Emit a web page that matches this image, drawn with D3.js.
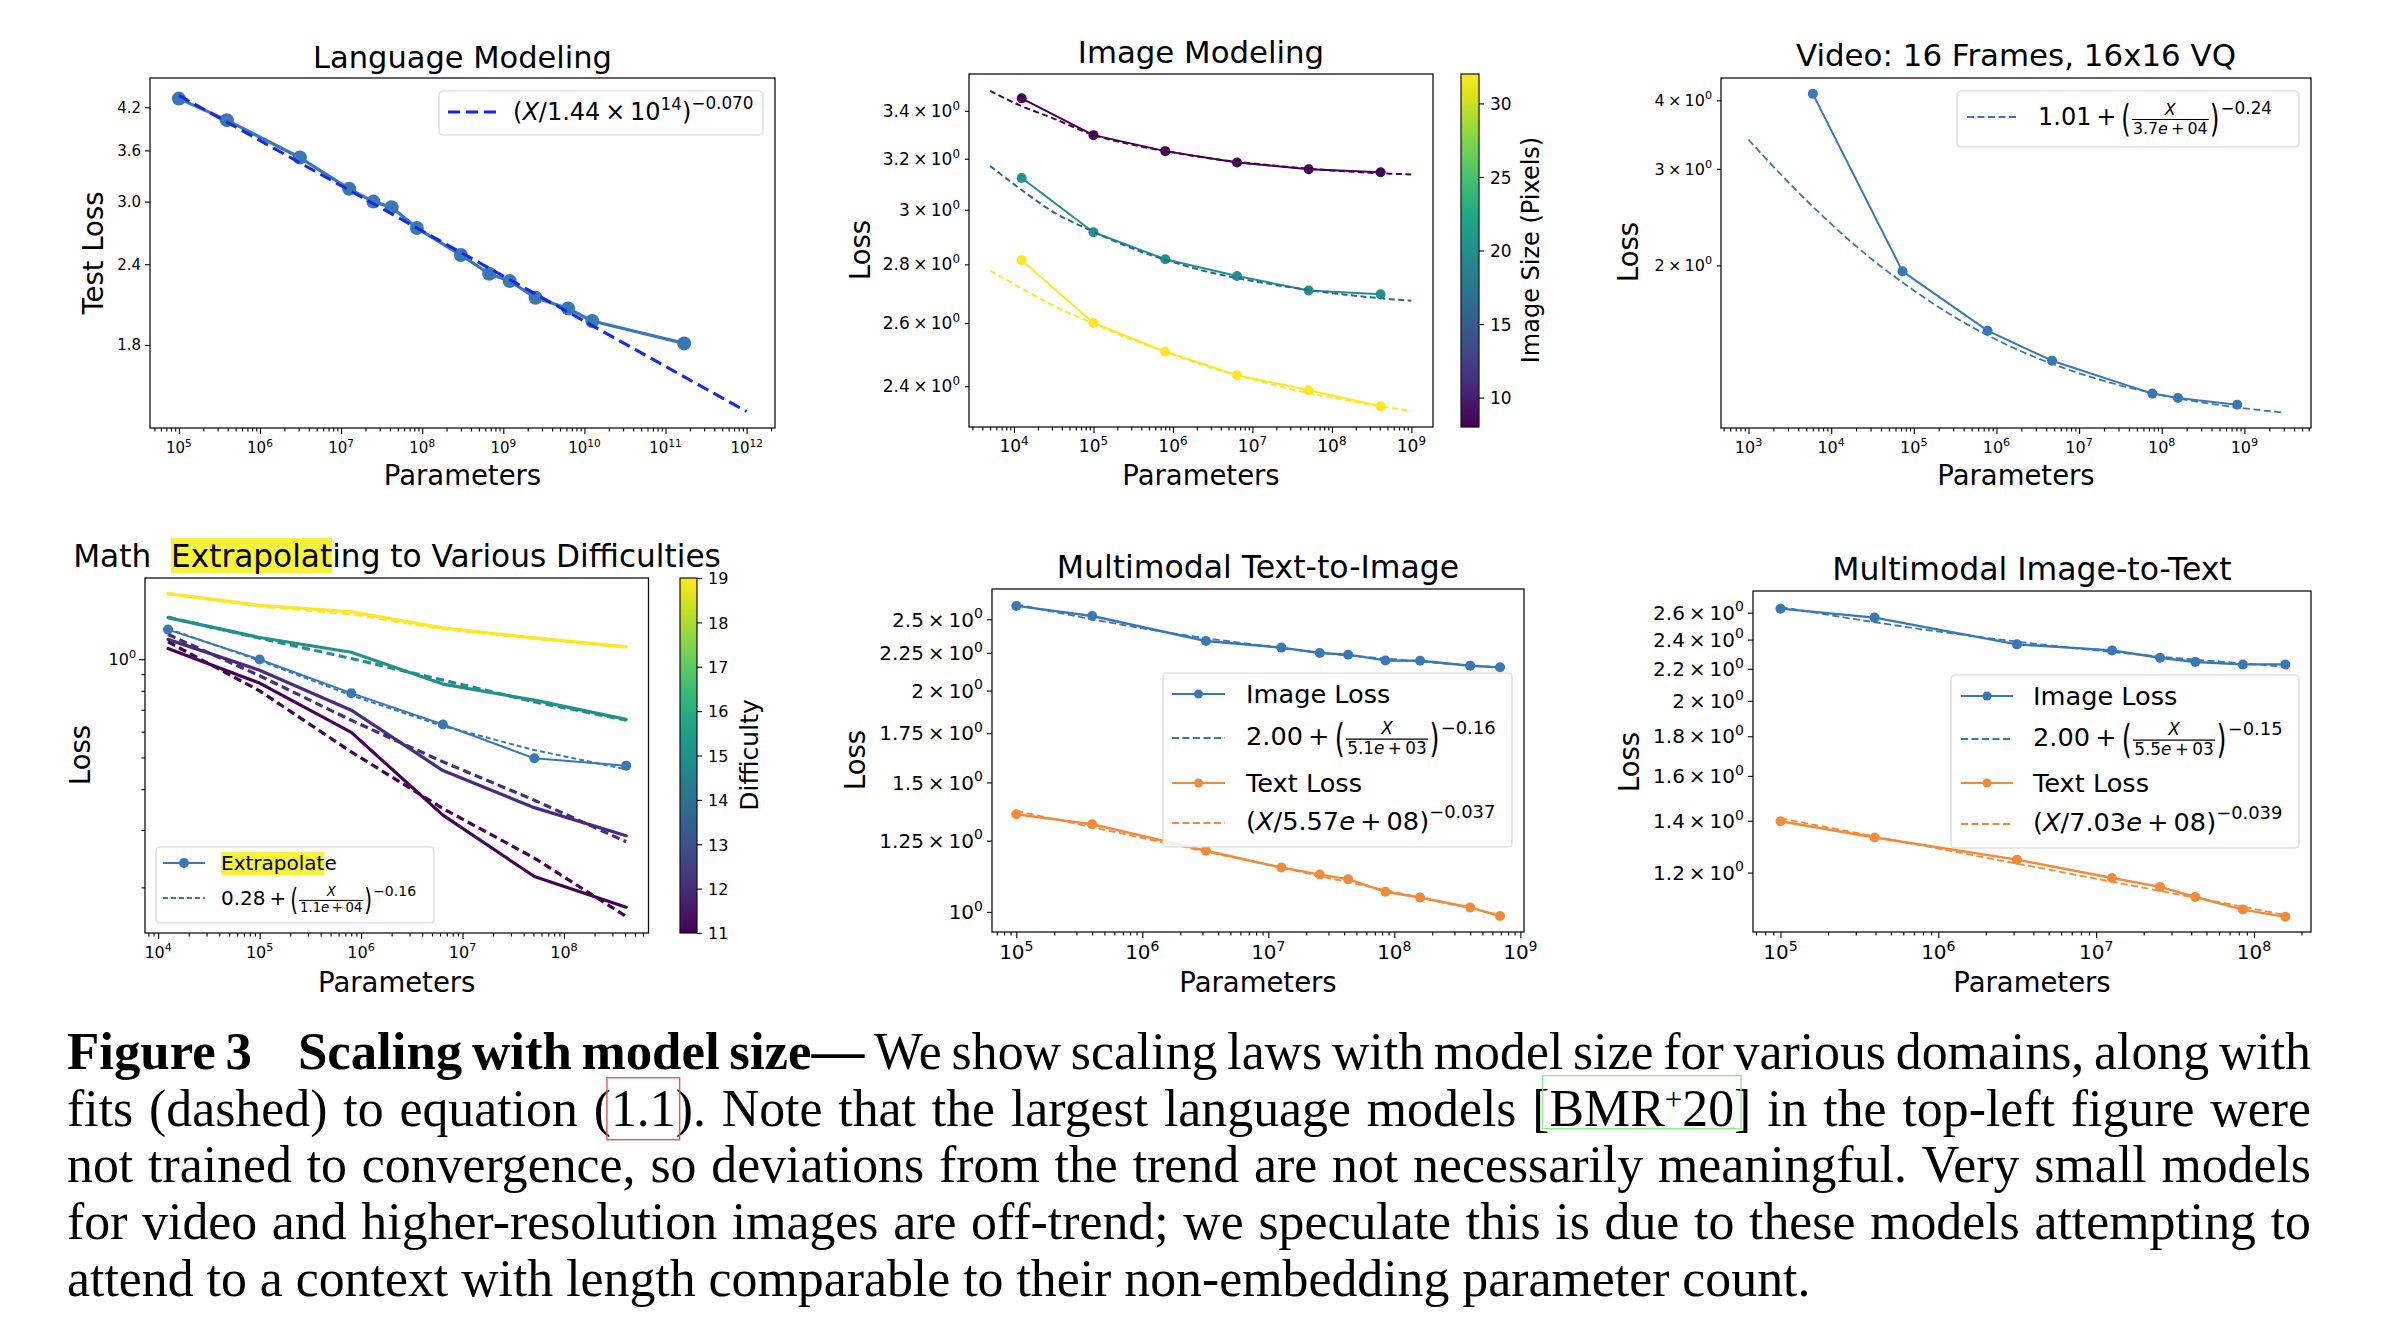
<!DOCTYPE html>
<html>
<head>
<meta charset="utf-8">
<script src="https://cdn.jsdelivr.net/npm/d3@7"></script>
<style>
  html, body { margin: 0; padding: 0; background: #fff; }
  svg { display: block; }
</style>
</head>
<body>
<script>
// ================= DATA =================
// Language Modeling
const lmParams = [1e5, 3.9e5, 3.1e6, 1.26e7, 2.5e7, 4.2e7, 8.6e7, 3.0e8, 6.7e8, 1.2e9, 2.5e9, 6.3e9, 1.25e10, 1.7e11];
const lmLoss   = [4.33, 4.01, 3.51, 3.14, 3.00, 2.94, 2.73, 2.48, 2.32, 2.26, 2.13, 2.05, 1.96, 1.81];
const lmFitParams = [1e5, 1e12];
const lmFitLoss   = [4.38, 1.42];
const lmYTicks = [1.8, 2.4, 3.0, 3.6, 4.2];
const lmXExponents = [5, 6, 7, 8, 9, 10, 11, 12];

// Image Modeling (image sizes 8, 16, 32 pixels)
const imgParams = [1.25e4, 1e5, 8e5, 6.4e6, 5.1e7, 4.1e8];
const imgSizes  = [8, 16, 32];
const imgLoss8  = [3.454, 3.297, 3.231, 3.185, 3.158, 3.146];
const imgLoss16 = [3.123, 2.916, 2.818, 2.759, 2.709, 2.696];
const imgLoss32 = [2.815, 2.600, 2.507, 2.434, 2.388, 2.340];
const imgFitParams = [5e3, 1.25e4, 3e4, 1e5, 3e5, 1e6, 3e6, 1e7, 3e7, 1e8, 3e8, 1e9];
const imgFit8  = [3.487, 3.420, 3.370, 3.298, 3.258, 3.226, 3.201, 3.181, 3.166, 3.153, 3.144, 3.137];
const imgFit16 = [3.171, 3.076, 2.995, 2.918, 2.858, 2.808, 2.771, 2.742, 2.720, 2.700, 2.686, 2.674];
const imgFit32 = [2.778, 2.716, 2.660, 2.598, 2.546, 2.498, 2.457, 2.421, 2.392, 2.366, 2.345, 2.326];
const imgYTicks = [2.4, 2.6, 2.8, 3.0, 3.2, 3.4];
const imgXExponents = [4, 5, 6, 7, 8, 9];
const imgColorbarTicks = [10, 15, 20, 25, 30];
const imgColorbarRange = [8, 32];

// Video: 16 Frames, 16x16 VQ
const vidParams = [6.0e3, 7.3e4, 7.8e5, 4.7e6, 7.7e7, 1.57e8, 8.2e8];
const vidLoss   = [4.11, 1.95, 1.52, 1.34, 1.167, 1.146, 1.114];
const vidFitParams = [1e3, 3e3, 1e4, 3e4, 1e5, 3e5, 1e6, 3e6, 1e7, 3e7, 1e8, 3e8, 1e9, 2.9e9];
const vidFitLoss   = [3.39, 2.84, 2.38, 2.06, 1.80, 1.615, 1.463, 1.358, 1.271, 1.21, 1.16, 1.125, 1.097, 1.078];
const vidYTicks = [2, 3, 4];
const vidXExponents = [3, 4, 5, 6, 7, 8, 9];

// Math: extrapolating to various difficulties
const mathParams = [1.25e4, 1e5, 8e5, 6.4e6, 5.1e7, 4.1e8];
const mathDifficulties = [19, 15, 12, 11];
const mathLoss19 = [1.588, 1.463, 1.396, 1.247, 1.162, 1.091];
const mathFit19  = [1.588, 1.455, 1.378, 1.240, 1.158, 1.088];
const mathLoss15 = [1.341, 1.165, 1.050, 0.839, 0.749, 0.654];
const mathFit15  = [1.345, 1.160, 1.005, 0.863, 0.740, 0.651];
const mathLoss12 = [1.150, 0.925, 0.698, 0.456, 0.351, 0.288];
const mathFit12  = [1.190, 0.890, 0.650, 0.485, 0.370, 0.276];
const mathLoss11 = [1.078, 0.845, 0.597, 0.333, 0.216, 0.174];
const mathFit11  = [1.130, 0.800, 0.520, 0.349, 0.246, 0.163];
const mathExtrapolate    = [1.232, 0.998, 0.787, 0.631, 0.497, 0.472];
const mathExtrapolateFit = [1.240, 0.990, 0.775, 0.624, 0.527, 0.460];
const mathYMinorTicks = [0.2, 0.3, 0.4, 0.5, 0.6, 0.7, 0.8, 0.9];
const mathXExponents = [4, 5, 6, 7, 8];
const mathColorbarTicks = [11, 12, 13, 14, 15, 16, 17, 18, 19];
const mathColorbarRange = [11, 19];

// Multimodal Text-to-Image
const t2iParams    = [1e5, 4e5, 3.2e6, 1.27e7, 2.56e7, 4.3e7, 8.5e7, 1.6e8, 4.0e8, 6.9e8];
const t2iImageLoss = [2.607, 2.526, 2.336, 2.288, 2.250, 2.238, 2.198, 2.196, 2.162, 2.151];
const t2iTextLoss  = [1.358, 1.316, 1.211, 1.149, 1.124, 1.108, 1.065, 1.046, 1.014, 0.987];
const t2iImageFitParams = [1e5, 4e5, 1e6, 3.2e6, 1e7, 3e7, 1e8, 3e8, 6.9e8];
const t2iImageFit       = [2.62, 2.50, 2.43, 2.357, 2.297, 2.245, 2.206, 2.172, 2.150];
const t2iTextFitParams = [1e5, 6.9e8];
const t2iTextFit       = [1.372, 0.991];
const t2iYTicks = [1.0, 1.25, 1.5, 1.75, 2.0, 2.25, 2.5];
const t2iXExponents = [5, 6, 7, 8, 9];

// Multimodal Image-to-Text
const i2tParams    = [1e5, 3.95e5, 3.15e6, 1.26e7, 2.54e7, 4.25e7, 8.5e7, 1.58e8];
const i2tImageLoss = [2.631, 2.562, 2.366, 2.324, 2.274, 2.245, 2.229, 2.229];
const i2tTextLoss  = [1.398, 1.332, 1.247, 1.181, 1.150, 1.116, 1.075, 1.052];
const i2tImageFitParams = [1e5, 4e5, 1e6, 3.2e6, 1e7, 3e7, 1e8, 1.58e8];
const i2tImageFit       = [2.645, 2.526, 2.458, 2.385, 2.324, 2.275, 2.230, 2.214];
const i2tTextFitParams = [1e5, 1.58e8];
const i2tTextFit       = [1.41, 1.058];
const i2tYTicks = [1.2, 1.4, 1.6, 1.8, 2.0, 2.2, 2.4, 2.6];
const i2tXExponents = [5, 6, 7, 8];

// Caption
const captionLines = [
  [['Figure 3', 'b'], ['\t'], ['Scaling with model size\u2014', 'b'], [' We show scaling laws with model size for various domains, along with']],
  [['fits (dashed) to equation ('], ['1.1', 'red'], ['). Note that the largest language models ['], ['BMR', 'green'], ['+', 'greensup'], ['20', 'green'], ['] in the top-left figure were']],
  [['not trained to convergence, so deviations from the trend are not necessarily meaningful. Very small models']],
  [['for video and higher-resolution images are off-trend; we speculate this is due to these models attempting to']],
  [['attend to a context with length comparable to their non-embedding parameter count.']]
];

// ================= DRAWING =================
const W = 2392, H = 1334;
const FONT = '"DejaVu Sans", Verdana, sans-serif';
const SERIF = '"Liberation Serif", "Times New Roman", Times, serif';
const BLUE = '#3a78b5', ORANGE = '#f28a3a', HILITE = '#f6f23e';

const svg = d3.select('body').append('svg')
  .attr('width', W).attr('height', H)
  .attr('font-family', FONT);
svg.append('rect').attr('width', W).attr('height', H).attr('fill', '#fff');
const defs = svg.append('defs');
const measurer = svg.append('text').attr('visibility', 'hidden').style('white-space', 'pre');

function textWidth(str, fs, o = {}) {
  measurer.attr('font-family', o.family || FONT).attr('font-size', fs)
    .attr('font-weight', o.bold ? 'bold' : 'normal')
    .attr('font-style', o.it ? 'italic' : 'normal').text(str);
  return measurer.node().getComputedTextLength();
}

// tiny mathtext-like layout: returns width; draws if draw=true
function math(g, x, y, fs, items, color = '#000', draw = true) {
  let cx = x;
  for (const it of items) {
    cx += (it.pre || 0) * fs;
    if (it.frac) {
      const f = fs * (it.s || 0.66);
      const wn = math(null, 0, 0, f, it.frac[0], color, false);
      const wd = math(null, 0, 0, f, it.frac[1], color, false);
      const w = Math.max(wn, wd) + 0.2 * fs;
      if (draw) {
        const by = y - 0.23 * fs;
        g.append('line').attr('x1', cx + 0.05 * fs).attr('x2', cx + w - 0.05 * fs)
          .attr('y1', by).attr('y2', by).attr('stroke', color).attr('stroke-width', Math.max(1, 0.05 * fs));
        math(g, cx + (w - wn) / 2, by - 0.2 * fs, f, it.frac[0], color, true);
        math(g, cx + (w - wd) / 2, by + 0.6 * fs, f, it.frac[1], color, true);
      }
      cx += w;
    } else if (it.paren) {
      const f = fs, sy = it.sy || 1.55;
      if (draw) {
        const yc = y - 0.23 * fs;
        g.append('text').attr('transform', `translate(${cx},${yc}) scale(1,${sy})`)
          .attr('y', 0.314 * f).attr('font-size', f).attr('fill', color).text(it.paren);
      }
      cx += textWidth(it.paren, f);
    } else {
      const f = fs * (it.s || 1);
      if (draw) {
        g.append('text').attr('x', cx).attr('y', y - (it.dy || 0) * fs)
          .attr('font-size', f).attr('font-style', it.it ? 'italic' : null)
          .attr('fill', color).style('white-space', 'pre').text(it.t);
      }
      cx += textWidth(it.t, f, { it: it.it });
    }
  }
  return cx - x;
}

const X_IT = [{ t: 'X', it: 1 }];
function pow10(e) { return [{ t: '10' }, { t: String(e), s: 0.7, dy: 0.42 }]; }
function times10(v) {
  return v === 1 ? pow10(0)
    : [{ t: d3.format('~g')(v) + '\u2009\u00d7\u200910' }, { t: '0', s: 0.7, dy: 0.42 }];
}

function minorTicks(d) {
  const out = [];
  const a = Math.floor(Math.log10(d[0])), b = Math.ceil(Math.log10(d[1]));
  for (let k = a; k <= b; k++) for (let m = 2; m <= 9; m++) {
    const v = m * Math.pow(10, k);
    if (v >= d[0] && v <= d[1]) out.push(v);
  }
  return out;
}

function styleAxis(s) {
  s.select('.domain').remove();
  s.selectAll('text').remove();
  s.selectAll('line').attr('stroke', '#000').attr('stroke-width', 1.1);
}

function panel(c) {
  const g = svg.append('g');
  const data = g.append('g');
  const x = d3.scaleLog().domain(c.xd).range([c.l, c.r]);
  const y = d3.scaleLog().domain(c.yd).range([c.b, c.t]);
  g.append('g').attr('transform', `translate(0,${c.b})`)
    .call(d3.axisBottom(x).tickValues(minorTicks(c.xd)).tickFormat('').tickSizeOuter(0).tickSize(3.5)).call(styleAxis);
  g.append('g').attr('transform', `translate(0,${c.b})`)
    .call(d3.axisBottom(x).tickValues(c.xExp.map(e => Math.pow(10, e))).tickFormat('').tickSizeOuter(0).tickSize(6)).call(styleAxis);
  if (c.yMinor) g.append('g').attr('transform', `translate(${c.l},0)`)
    .call(d3.axisLeft(y).tickValues(c.yMinor).tickFormat('').tickSizeOuter(0).tickSize(3.5)).call(styleAxis);
  g.append('g').attr('transform', `translate(${c.l},0)`)
    .call(d3.axisLeft(y).tickValues(c.yTicks).tickFormat('').tickSizeOuter(0).tickSize(c.yTickLen || 5)).call(styleAxis);
  const lab = g.append('g');
  c.xExp.forEach(e => {
    const items = pow10(e);
    const w = math(null, 0, 0, c.fs, items, '#000', false);
    math(lab, x(Math.pow(10, e)) - w / 2, c.b + c.xlOff, c.fs, items);
  });
  c.yTicks.forEach(v => {
    const items = c.yFmt(v);
    const w = math(null, 0, 0, c.fs, items, '#000', false);
    math(lab, c.l - 9 - w, y(v) + 0.36 * c.fs, c.fs, items);
  });
  g.append('rect').attr('x', c.l).attr('y', c.t).attr('width', c.r - c.l).attr('height', c.b - c.t)
    .attr('fill', 'none').attr('stroke', '#111').attr('stroke-width', 1.3);
  if (c.title) g.append('text').attr('x', (c.l + c.r) / 2).attr('y', c.titleY)
    .attr('text-anchor', 'middle').attr('font-size', c.titleFs || 31).text(c.title);
  g.append('text').attr('x', (c.l + c.r) / 2).attr('y', c.xlabY)
    .attr('text-anchor', 'middle').attr('font-size', 27.5).text('Parameters');
  g.append('text').attr('transform', `translate(${c.ylabX},${c.ylabY}) rotate(-90)`)
    .attr('dy', '0.36em').attr('text-anchor', 'middle').attr('font-size', 27.5).text(c.ylab);
  return { g: data, x, y };
}

function drawSeries(p, xs, ys, o) {
  const pts = xs.map((v, i) => [v, ys[i]]);
  const line = d3.line().x(d => p.x(d[0])).y(d => p.y(d[1])).curve(o.curve || d3.curveLinear);
  p.g.append('path').attr('d', line(pts)).attr('fill', 'none').attr('stroke', o.color)
    .attr('stroke-width', o.w).attr('stroke-dasharray', o.dash || null)
    .attr('stroke-linejoin', 'round').attr('stroke-linecap', o.dash ? 'butt' : 'round');
  if (o.r) p.g.append('g').selectAll('circle').data(pts).join('circle')
    .attr('cx', d => p.x(d[0])).attr('cy', d => p.y(d[1])).attr('r', o.r).attr('fill', o.color);
}

function colorbar(c) {
  const id = 'vir' + c.id;
  const lg = defs.append('linearGradient').attr('id', id).attr('x1', 0).attr('y1', 1).attr('x2', 0).attr('y2', 0);
  d3.range(0, 1.0001, 0.05).forEach(t => lg.append('stop').attr('offset', t).attr('stop-color', d3.interpolateViridis(t)));
  svg.append('rect').attr('x', c.x).attr('y', c.t).attr('width', c.w).attr('height', c.b - c.t)
    .attr('fill', `url(#${id})`).attr('stroke', '#111').attr('stroke-width', 1.2);
  const s = d3.scaleLinear().domain(c.domain).range([c.b, c.t]);
  svg.append('g').attr('transform', `translate(${c.x + c.w},0)`)
    .call(d3.axisRight(s).tickValues(c.ticks).tickSize(5).tickSizeOuter(0).tickFormat(d3.format('d')))
    .call(sel => {
      sel.select('.domain').remove();
      sel.attr('font-family', null).attr('font-size', null);
      sel.selectAll('line').attr('stroke', '#000').attr('stroke-width', 1.1);
      sel.selectAll('text').attr('font-size', c.fs).attr('fill', '#000').attr('x', 11).attr('dy', '0.36em');
    });
  svg.append('text').attr('transform', `translate(${c.labX},${c.labY}) rotate(-90)`)
    .attr('dy', '0.36em').attr('text-anchor', 'middle').attr('font-size', c.labFs).text(c.label);
}

function legendBox(x0, y0, x1, y1) {
  svg.append('rect').attr('x', x0).attr('y', y0).attr('width', x1 - x0).attr('height', y1 - y0).attr('rx', 4)
    .attr('fill', '#fff').attr('fill-opacity', 0.85).attr('stroke', '#d6d6d6').attr('stroke-width', 1.2);
}
function legendLine(x0, x1, y, color, w, dash, r) {
  svg.append('line').attr('x1', x0).attr('x2', x1).attr('y1', y).attr('y2', y)
    .attr('stroke', color).attr('stroke-width', w).attr('stroke-dasharray', dash || null);
  if (r) svg.append('circle').attr('cx', (x0 + x1) / 2).attr('cy', y).attr('r', r).attr('fill', color);
}

// ---------- Panel 1: Language Modeling ----------
{
  const p = panel({ l: 150, t: 78, r: 775, b: 428, xd: [Math.pow(10, 4.644), Math.pow(10, 12.35)], yd: [1.339, 4.66],
    xExp: lmXExponents, yTicks: lmYTicks, yFmt: v => [{ t: d3.format('.1f')(v) }], fs: 15, xlOff: 25, titleFs: 30.5,
    title: 'Language Modeling', titleY: 68, xlabY: 485, ylab: 'Test Loss', ylabX: 93, ylabY: 253 });
  drawSeries(p, lmParams, lmLoss, { color: BLUE, w: 3.2, r: 7 });
  drawSeries(p, lmFitParams, lmFitLoss, { color: '#1426f0', w: 3, dash: '12,6' });
  legendBox(439, 91, 763, 135);
  legendLine(448, 497, 112, '#1426f0', 3, '12,6');
  math(svg, 513, 120, 24, [{ t: '(' }, { t: 'X', it: 1 }, { t: '/1.44\u2009\u00d7\u200910' }, { t: '14', s: 0.7, dy: 0.42 },
    { t: ')' }, { t: '\u22120.070', s: 0.7, dy: 0.45 }]);
}

// ---------- Panel 2: Image Modeling ----------
{
  const p = panel({ l: 969, t: 74, r: 1433, b: 427, xd: [Math.pow(10, 3.434), Math.pow(10, 9.272)], yd: [2.2795, 3.562],
    xExp: imgXExponents, yTicks: imgYTicks, yFmt: times10, fs: 17, xlOff: 25, yTickLen: 4, titleFs: 30.8,
    title: 'Image Modeling', titleY: 63, xlabY: 485, ylab: 'Loss', ylabX: 860, ylabY: 250 });
  const losses = [imgLoss8, imgLoss16, imgLoss32];
  const fits = [imgFit8, imgFit16, imgFit32];
  imgSizes.forEach((s, i) => {
    const cData = d3.interpolateViridis((Math.log2(s) - 3) / 2);
    const cFit = d3.interpolateViridis((s - imgColorbarRange[0]) / (imgColorbarRange[1] - imgColorbarRange[0]));
    drawSeries(p, imgParams, losses[i], { color: cData, w: 2, r: 5 });
    drawSeries(p, imgFitParams, fits[i], { color: cFit, w: 2, dash: '6,3.5', curve: d3.curveMonotoneX });
  });
  colorbar({ id: 'img', x: 1461, w: 18, t: 74, b: 427, domain: imgColorbarRange, ticks: imgColorbarTicks, fs: 17,
    label: 'Image Size (Pixels)', labX: 1530, labY: 250, labFs: 24 });
}

// ---------- Panel 3: Video ----------
{
  const p = panel({ l: 1721, t: 78, r: 2311, b: 428, xd: [Math.pow(10, 2.667), Math.pow(10, 9.806)], yd: [1.01, 4.393],
    xExp: vidXExponents, yTicks: vidYTicks, yFmt: times10, fs: 16, xlOff: 25, yTickLen: 4, titleFs: 30.9,
    title: 'Video: 16 Frames, 16x16 VQ', titleY: 66, xlabY: 485, ylab: 'Loss', ylabX: 1628, ylabY: 252 });
  drawSeries(p, vidParams, vidLoss, { color: BLUE, w: 2, r: 5 });
  drawSeries(p, vidFitParams, vidFitLoss, { color: BLUE, w: 1.8, dash: '7,3.5', curve: d3.curveMonotoneX });
  legendBox(1957, 91, 2299, 147);
  legendLine(1967, 2019, 117, BLUE, 1.8, '7,3.5');
  math(svg, 2038, 125, 24, [{ t: '1.01' }, { t: '+', pre: 0.2 }, { paren: '(', pre: 0.2 },
    { frac: [X_IT, [{ t: '3.7' }, { t: 'e', it: 1 }, { t: '\u2009+\u200904' }]] }, { paren: ')' },
    { t: '\u22120.24', s: 0.7, dy: 0.46, pre: 0.05 }]);
}

// ---------- Panel 4: Math ----------
{
  const p = panel({ l: 145, t: 578, r: 648.5, b: 933, xd: [Math.pow(10, 3.87), Math.pow(10, 8.833)], yd: [0.145, 1.773],
    xExp: mathXExponents, yTicks: [1], yMinor: mathYMinorTicks, yFmt: times10, fs: 16, xlOff: 25, yTickLen: 6,
    title: null, xlabY: 992, ylab: 'Loss', ylabX: 80, ylabY: 755 });
  const losses = [mathLoss19, mathLoss15, mathLoss12, mathLoss11];
  const fits = [mathFit19, mathFit15, mathFit12, mathFit11];
  mathDifficulties.forEach((d, i) => {
    const col = d3.interpolateViridis((d - mathColorbarRange[0]) / (mathColorbarRange[1] - mathColorbarRange[0]));
    drawSeries(p, mathParams, losses[i], { color: col, w: 3.2 });
    drawSeries(p, mathParams, fits[i], { color: col, w: 3.2, dash: '8,4.5' });
  });
  drawSeries(p, mathParams, mathExtrapolate, { color: BLUE, w: 2, r: 5 });
  drawSeries(p, mathParams, mathExtrapolateFit, { color: BLUE, w: 2, dash: '5,3' });
  colorbar({ id: 'math', x: 680, w: 17, t: 578, b: 933, domain: mathColorbarRange, ticks: mathColorbarTicks, fs: 16,
    label: 'Difficulty', labX: 749, labY: 755, labFs: 25 });
  // title with highlight
  const tg = svg.append('g');
  const tt = tg.append('text').attr('x', 397).attr('y', 567).attr('text-anchor', 'middle').attr('font-size', 31.2)
    .style('white-space', 'pre').text('Math  Extrapolating to Various Difficulties');
  const n = tt.node();
  const hx0 = n.getStartPositionOfChar(6).x, hx1 = n.getEndPositionOfChar(15).x;
  tg.insert('rect', 'text').attr('x', hx0).attr('y', 538).attr('width', hx1 - hx0).attr('height', 35).attr('fill', HILITE);
  // legend
  legendBox(156, 847, 434, 923);
  svg.append('rect').attr('x', 221).attr('y', 852).attr('width', textWidth('Extrapolat', 20)).attr('height', 23).attr('fill', HILITE);
  legendLine(163, 205, 863, BLUE, 2, null, 5);
  svg.append('text').attr('x', 221).attr('y', 870).attr('font-size', 20).text('Extrapolate');
  legendLine(163, 205, 898, BLUE, 2, '5,3');
  math(svg, 221, 905, 20, [{ t: '0.28' }, { t: '+', pre: 0.2 }, { paren: '(', pre: 0.2 },
    { frac: [X_IT, [{ t: '1.1' }, { t: 'e', it: 1 }, { t: '\u2009+\u200904' }]] }, { paren: ')' },
    { t: '\u22120.16', s: 0.7, dy: 0.46, pre: 0.05 }]);
}

// ---------- Panels 5 & 6: Multimodal ----------
function multimodal(c, d) {
  const p = panel(c);
  drawSeries(p, d.params, d.image, { color: BLUE, w: 2.4, r: 5 });
  drawSeries(p, d.imgFitX, d.imgFit, { color: BLUE, w: 1.8, dash: '7,3.5', curve: d3.curveMonotoneX });
  drawSeries(p, d.params, d.text, { color: ORANGE, w: 2.4, r: 5 });
  drawSeries(p, d.txtFitX, d.txtFit, { color: ORANGE, w: 1.8, dash: '7,3.5' });
  const L = d.leg, LF = 25.6;
  legendBox(L.x0, L.y0, L.x1, L.y1);
  legendLine(L.lx0, L.lx1, L.rows[0], BLUE, 2, null, 4.5);
  svg.append('text').attr('x', L.tx).attr('y', L.rows[0] + 9).attr('font-size', LF).text('Image Loss');
  legendLine(L.lx0, L.lx1, L.rows[1], BLUE, 1.8, '7,3.5');
  math(svg, L.tx, L.rows[1] + 7, LF, [{ t: '2.00' }, { t: '+', pre: 0.2 }, { paren: '(', pre: 0.2 },
    { frac: [X_IT, [{ t: d.den[0] }, { t: 'e', it: 1 }, { t: '\u2009+\u2009' + d.den[1] }]] }, { paren: ')' },
    { t: d.exp1, s: 0.7, dy: 0.44, pre: 0.05 }]);
  legendLine(L.lx0, L.lx1, L.rows[2], ORANGE, 2, null, 4.5);
  svg.append('text').attr('x', L.tx).attr('y', L.rows[2] + 9).attr('font-size', LF).text('Text Loss');
  legendLine(L.lx0, L.lx1, L.rows[3], ORANGE, 1.8, '7,3.5');
  math(svg, L.tx, L.rows[3] + 7, LF, [{ t: '(' }, { t: 'X', it: 1 }, { t: '/' + d.den2[0] }, { t: 'e', it: 1 },
    { t: '\u2009+\u2009' + d.den2[1] + ')' }, { t: d.exp2, s: 0.7, dy: 0.46 }]);
}

multimodal({ l: 992, t: 589, r: 1524, b: 932, xd: [Math.pow(10, 4.807), Math.pow(10, 9.029)], yd: [0.939, 2.749],
  xExp: t2iXExponents, yTicks: t2iYTicks, yFmt: times10, fs: 20, xlOff: 27, yTickLen: 5, titleFs: 31.5,
  title: 'Multimodal Text-to-Image', titleY: 578, xlabY: 992, ylab: 'Loss', ylabX: 855, ylabY: 760 },
  { params: t2iParams, image: t2iImageLoss, text: t2iTextLoss, imgFitX: t2iImageFitParams, imgFit: t2iImageFit,
    txtFitX: t2iTextFitParams, txtFit: t2iTextFit, den: ['5.1', '03'], exp1: '\u22120.16', den2: ['5.57', '08'], exp2: '\u22120.037',
    leg: { x0: 1163, y0: 673, x1: 1512, y1: 847, lx0: 1172, lx1: 1225, tx: 1246, rows: [694, 738, 783, 823] } });

multimodal({ l: 1753, t: 591, r: 2311, b: 932, xd: [Math.pow(10, 4.826), Math.pow(10, 8.361)], yd: [1.0056, 2.773],
  xExp: i2tXExponents, yTicks: i2tYTicks, yFmt: times10, fs: 20, xlOff: 27, yTickLen: 5, titleFs: 31.5,
  title: 'Multimodal Image-to-Text', titleY: 580, xlabY: 992, ylab: 'Loss', ylabX: 1629, ylabY: 762 },
  { params: i2tParams, image: i2tImageLoss, text: i2tTextLoss, imgFitX: i2tImageFitParams, imgFit: i2tImageFit,
    txtFitX: i2tTextFitParams, txtFit: i2tTextFit, den: ['5.5', '03'], exp1: '\u22120.15', den2: ['7.03', '08'], exp2: '\u22120.039',
    leg: { x0: 1951, y0: 675, x1: 2299, y1: 848, lx0: 1961, lx1: 2013, tx: 2033, rows: [696, 739, 783, 824] } });

// ---------- Caption ----------
function tokenize(segs) {
  const words = [];
  let cur = null, pendingFixed = false;
  segs.forEach(([txt, st]) => {
    if (txt === '\t') { cur = null; pendingFixed = true; return; }
    txt.split(' ').forEach((part, i) => {
      if (i > 0) cur = null;
      if (part === '') return;
      if (!cur) { cur = []; words.push({ pieces: cur, fixedBefore: pendingFixed }); pendingFixed = false; }
      cur.push({ t: part, st: st || null });
    });
  });
  return words;
}
{
  const fs = 51.8, x0 = 67, x1 = 2311, y0 = 1069, lh = 56.7, fixedGap = 46;
  const g = svg.append('g');
  const natSpace = textWidth('n n', fs, { family: SERIF }) - textWidth('nn', fs, { family: SERIF });
  captionLines.forEach((segs, li) => {
    const words = tokenize(segs);
    words.forEach(w => {
      w.pieces.forEach(p => {
        p.fs = p.st === 'greensup' ? fs * 0.6 : (p.st === 'b' ? fs * 1.02 : fs);
        p.bold = p.st === 'b';
        p.w = textWidth(p.t, p.fs, { family: SERIF, bold: p.bold });
      });
      w.w = d3.sum(w.pieces, p => p.w);
    });
    const nFixed = words.filter((w, i) => i > 0 && w.fixedBefore).length;
    const nFlex = words.length - 1 - nFixed;
    const lastLine = li === captionLines.length - 1;
    const gap = lastLine ? natSpace : (x1 - x0 - d3.sum(words, w => w.w) - nFixed * fixedGap) / nFlex;
    const base = y0 + li * lh;
    const txt = g.append('text').style('font-family', SERIF).attr('font-size', fs).attr('fill', '#000');
    const boxes = {};
    let cx = x0;
    words.forEach((w, wi) => {
      if (wi > 0) cx += w.fixedBefore ? fixedGap : gap;
      w.pieces.forEach((p, pi) => {
        const endOfWord = pi === w.pieces.length - 1 && wi < words.length - 1;
        txt.append('tspan').attr('x', cx).attr('y', p.st === 'greensup' ? base - 0.3 * fs : base)
          .attr('font-size', p.fs).attr('font-weight', p.bold ? 'bold' : null)
          .text(p.t + (endOfWord ? ' ' : ''));
        const key = p.st === 'red' ? 'red' : (p.st && p.st.startsWith('green') ? 'green' : null);
        if (key) {
          if (!boxes[key]) boxes[key] = [cx, cx + p.w];
          boxes[key][0] = Math.min(boxes[key][0], cx);
          boxes[key][1] = Math.max(boxes[key][1], cx + p.w);
        }
        cx += p.w;
      });
    });
    if (boxes.red) g.append('rect').attr('x', boxes.red[0] - 4).attr('y', base - 48)
      .attr('width', boxes.red[1] - boxes.red[0] + 8).attr('height', 62)
      .attr('fill', 'none').attr('stroke', '#e8554e').attr('stroke-width', 1.4);
    if (boxes.green) g.append('rect').attr('x', boxes.green[0] - 7).attr('y', base - 50)
      .attr('width', boxes.green[1] - boxes.green[0] + 14).attr('height', 53)
      .attr('fill', 'none').attr('stroke', '#93e98a').attr('stroke-width', 1.4);
  });
}

measurer.remove();
</script>
</body>
</html>
